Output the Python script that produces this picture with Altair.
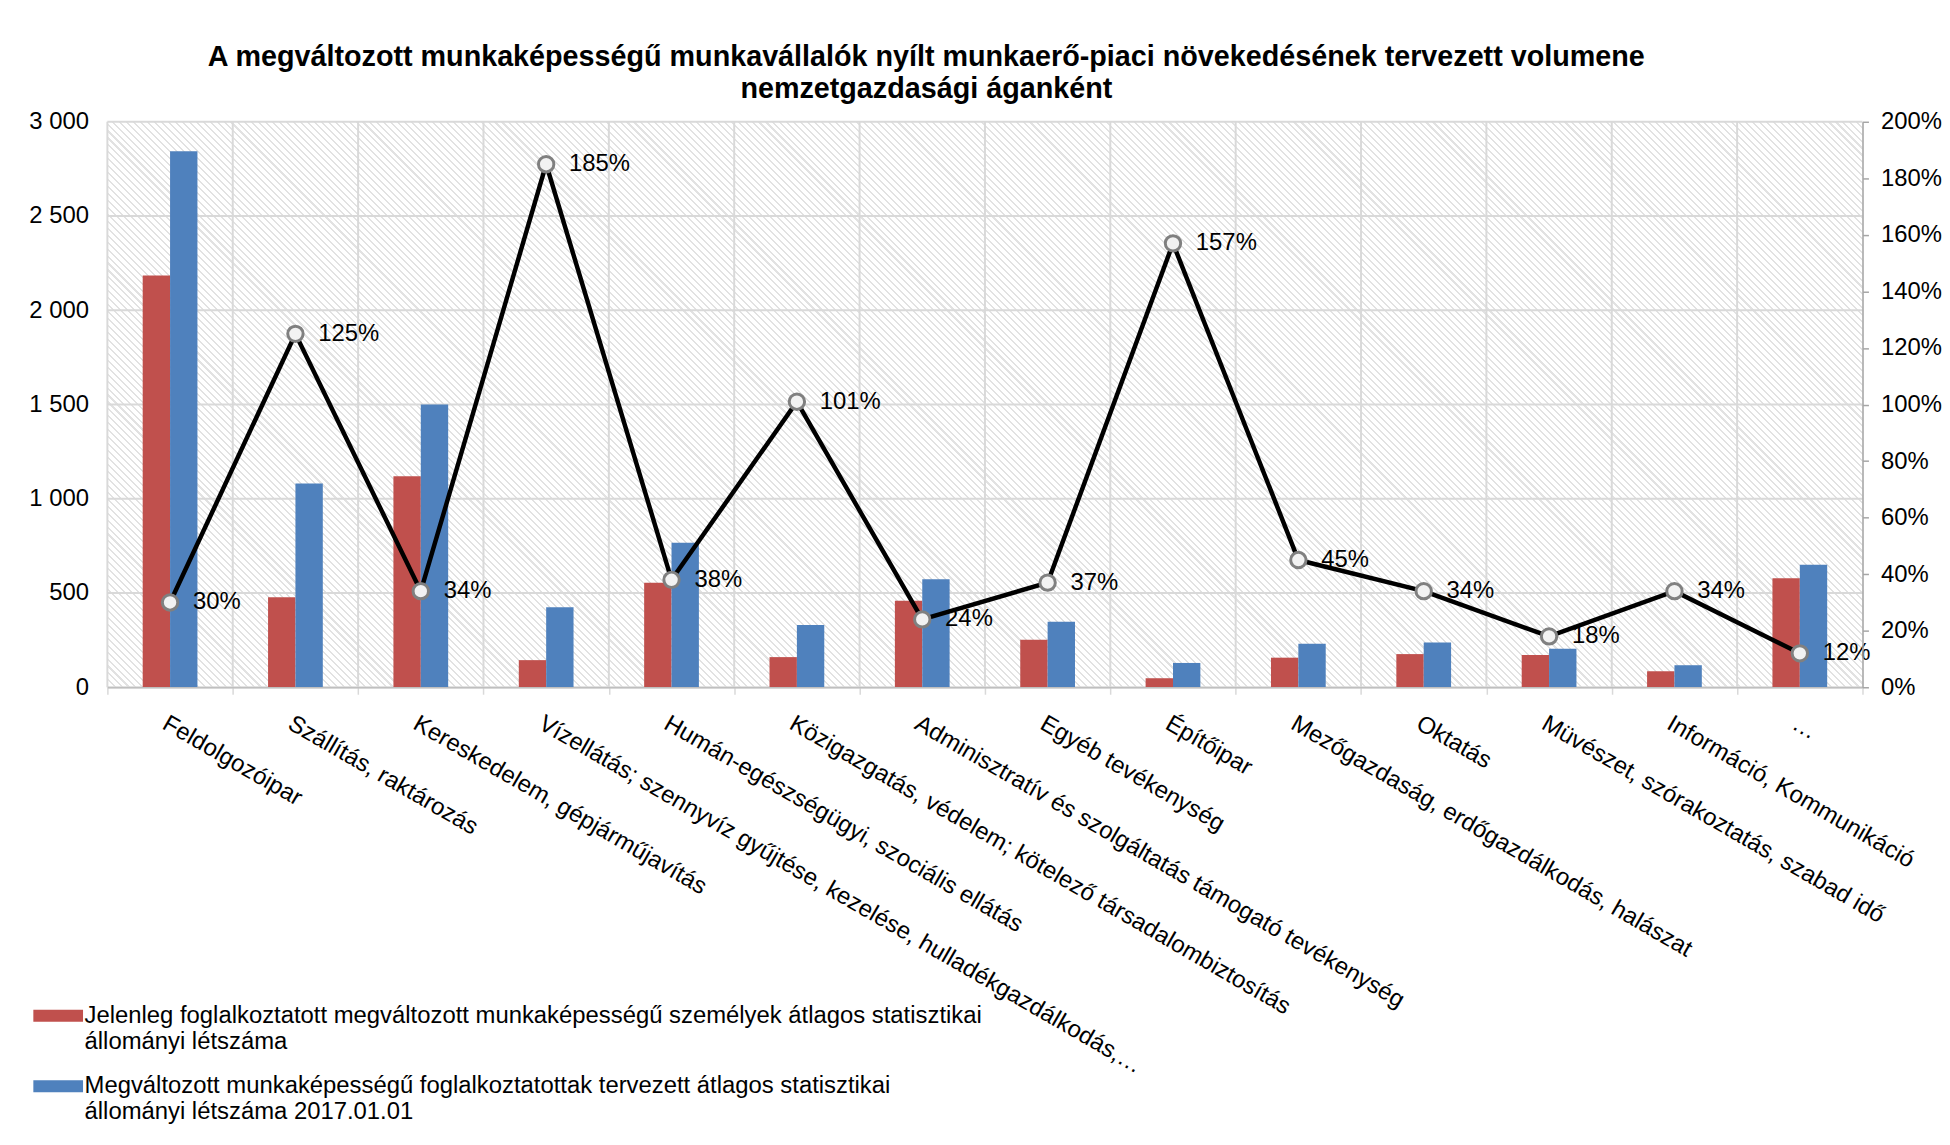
import altair as alt
import pandas as pd

FONT = "Liberation Sans"

categories = [
    "Feldolgozóipar",
    "Szállítás, raktározás",
    "Kereskedelem, gépjárműjavítás",
    "Vízellátás; szennyvíz gyűjtése, kezelése, hulladékgazdálkodás,…",
    "Humán-egészségügyi, szociális ellátás",
    "Közigazgatás, védelem; kötelező társadalombiztosítás",
    "Adminisztratív és szolgáltatás támogató tevékenység",
    "Egyéb tevékenység",
    "Építőipar",
    "Mezőgazdaság, erdőgazdálkodás, halászat",
    "Oktatás",
    "Müvészet, szórakoztatás, szabad idő",
    "Információ, Kommunikáció",
    "…",
]
current = [2184, 478, 1120, 144, 555, 160, 459, 252, 48, 157, 176, 171, 85, 579]
planned = [2844, 1081, 1500, 425, 767, 330, 573, 347, 129, 231, 238, 205, 117, 650]
growth_pct = [30, 125, 34, 185, 38, 101, 24, 37, 157, 45, 34, 18, 34, 12]

series_names = [
    "Jelenleg foglalkoztatott megváltozott munkaképességű személyek átlagos statisztikai\nállományi létszáma",
    "Megváltozott munkaképességű foglalkoztatottak tervezett átlagos statisztikai\nállományi létszáma 2017.01.01",
]
series_colors = ["#C0504D", "#4F81BD"]
left_ticks = [0, 500, 1000, 1500, 2000, 2500, 3000]
right_ticks = [0, 0.2, 0.4, 0.6, 0.8, 1.0, 1.2, 1.4, 1.6, 1.8, 2.0]

title_lines = [
    "A megváltozott munkaképességű munkavállalók nyílt munkaerő-piaci növekedésének tervezett volumene",
    "nemzetgazdasági áganként",
]

W, H = 1766, 569
FS = 24

# ---- data frames ----
bars_df = pd.DataFrame({
    "cat": categories * 2,
    "series": [series_names[0]] * len(categories) + [series_names[1]] * len(categories),
    "slot": ["s0"] * len(categories) + ["s1"] * len(categories),
    "value": current + planned,
})
line_df = pd.DataFrame({
    "cat": categories,
    "pct": [p / 100 for p in growth_pct],
    "label": [f"{p}%" for p in growth_pct],
})
grid_df = pd.DataFrame({"v": left_ticks})
cat_df = pd.DataFrame({"cat": categories})
bg_df = pd.DataFrame({"lo": [left_ticks[0]], "hi": [left_ticks[-1]]})

# ---- hatch gradient for the plot background ----
r = H / W
k = (1 + r) / (1 + r * r)
period = 7.0
N = int(round((W + H) / period))
stops = []
for i in range(N):
    a = i / N
    b = (i + 0.7) / N
    c = (i + 1) / N if i < N - 1 else 1.0
    stops += [
        {"offset": a, "color": "#ffffff"},
        {"offset": b, "color": "#ffffff"},
        {"offset": b, "color": "#e2e2e2"},
        {"offset": c, "color": "#e2e2e2"},
    ]
hatch = {"gradient": "linear", "x1": 1, "y1": 0, "x2": 1 - k, "y2": r * k, "stops": stops}

GRID = "#d9d9d9"
AXIS_GRAY = "#a6a6a6"

x_axis = alt.Axis(
    orient="bottom", title=None, tickBand="extent", ticks=True, tickSize=7,
    tickColor=GRID, tickWidth=1.5, domainColor="#bfbfbf", domainWidth=1.5,
    labelAngle=30, labelAlign="left", labelBaseline="top", labelPadding=17,
    labelLimit=0, labelFont=FONT, labelFontSize=FS, labelColor="black", zindex=1,
)
x_scale = alt.Scale(paddingInner=0, paddingOuter=0)


def xenc(**kw):
    return alt.X("cat:N", sort=categories, scale=x_scale, title=None, axis=x_axis, **kw)


y_scale = alt.Scale(domain=[0, 3000], nice=False, zero=True)
y_axis = alt.Axis(
    orient="left", values=left_ticks, title=None, domain=False, ticks=False,
    tickSize=0, grid=False, labelPadding=19, labelFont=FONT, labelFontSize=FS,
    labelColor="black", labelExpr="replace(format(datum.value, ','), ',', ' ')",
)

bg = alt.Chart(bg_df).mark_rect(fill=hatch).encode(
    y=alt.Y("lo:Q", scale=y_scale, axis=y_axis, title=None), y2="hi:Q"
)
vgrid = alt.Chart(cat_df).mark_rule(color=GRID, strokeWidth=2).encode(
    x=xenc(bandPosition=0)
)
hgrid = alt.Chart(grid_df).mark_rule(color=GRID, strokeWidth=2).encode(
    y=alt.Y("v:Q", scale=y_scale, axis=y_axis, title=None)
)

legend = alt.Legend(
    orient="none", legendX=-62, legendY=887, title=None, direction="vertical",
    labelExpr="split(datum.label, '\\n')", labelFont=FONT, labelFontSize=FS,
    labelColor="black", labelLimit=0, labelBaseline="middle",
    symbolType="M-2,-0.48H2V0.48H-2Z", symbolSize=625, symbolStrokeWidth=0,
    symbolOpacity=1, labelOffset=14, rowPadding=20, padding=0,
)

bars = alt.Chart(bars_df).mark_bar(opacity=1).encode(
    x=xenc(),
    xOffset=alt.XOffset(
        "slot:N",
        scale=alt.Scale(domain=["pl", "s0", "s1", "pr"], paddingInner=0, paddingOuter=0.29),
    ),
    y=alt.Y("value:Q", scale=y_scale, axis=y_axis, title=None),
    color=alt.Color(
        "series:N", scale=alt.Scale(domain=series_names, range=series_colors), legend=legend
    ),
)

left = alt.layer(bg, vgrid, hgrid, bars)

y2_scale = alt.Scale(domain=[0, 2], nice=False, zero=True)
y2_axis = alt.Axis(
    orient="right", values=right_ticks, format=".0%", title=None, grid=False,
    domainColor=AXIS_GRAY, domainWidth=1.5, tickColor=AXIS_GRAY, tickWidth=1.5,
    tickSize=6, labelPadding=12, labelFont=FONT, labelFontSize=FS,
    labelColor="black", zindex=1,
)
line = alt.Chart(line_df).mark_line(color="black", strokeWidth=4.5).encode(
    x=xenc(), y=alt.Y("pct:Q", scale=y2_scale, axis=y2_axis, title=None)
)
points = alt.Chart(line_df).mark_point(
    shape="circle", filled=True, fill="#f2f2f2", stroke="#808080", strokeWidth=3,
    size=240, opacity=1,
).encode(x=xenc(), y=alt.Y("pct:Q", scale=y2_scale, axis=y2_axis, title=None))
labels = alt.Chart(line_df).mark_text(
    align="left", baseline="middle", dx=23, font=FONT, fontSize=FS, color="black"
).encode(
    x=xenc(), y=alt.Y("pct:Q", scale=y2_scale, axis=y2_axis, title=None), text="label:N"
)

right = alt.layer(line, points, labels)

chart = (
    alt.layer(left, right)
    .resolve_scale(y="independent")
    .properties(
        width=W, height=H,
        padding={"left": 20, "top": 32, "right": 0, "bottom": 5},
        title=alt.Title(
            text=title_lines, font=FONT, fontSize=28.9, fontWeight="bold", color="black",
            anchor="middle", dx=-59, offset=6, lineHeight=32,
        ),
    )
    .configure_view(stroke=None)
    .configure(background="white")
)

chart.save("out.html", embed_options={"renderer": "svg", "actions": False})
